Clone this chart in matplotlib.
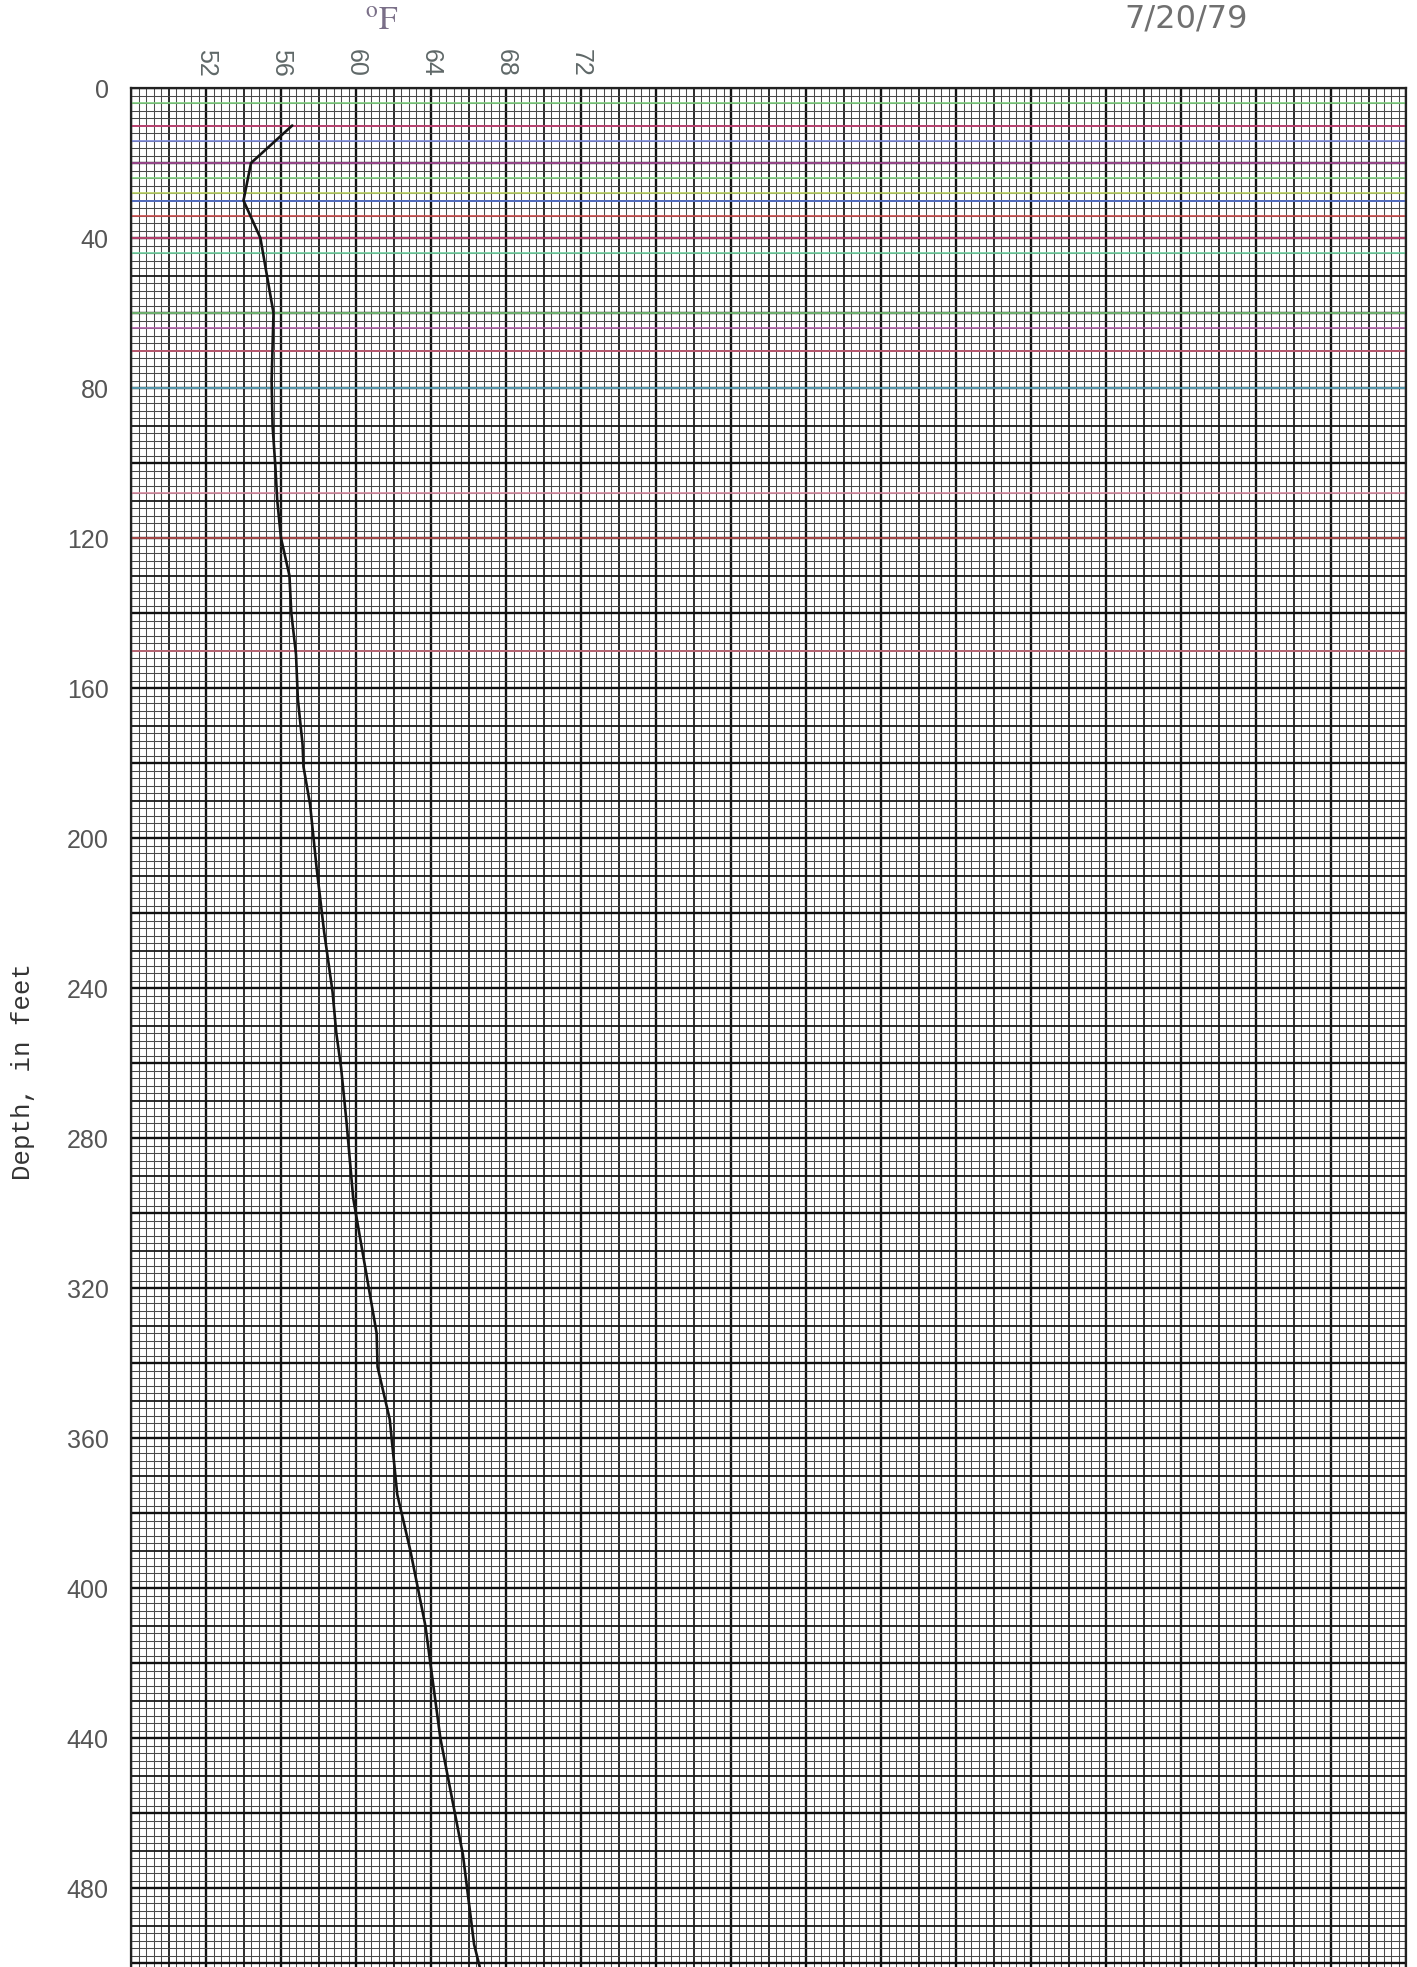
import matplotlib
matplotlib.use("Agg")
import matplotlib.pyplot as plt
import numpy as np

# ---------------- data ----------------
depth_ft = [10, 20, 30, 40, 60, 78, 90, 101, 110, 120, 130, 140, 151, 163,
            175, 181, 191, 208, 225, 241, 252, 261, 276, 296, 332, 341, 355,
            375, 390, 410, 440, 471, 495, 501]
temp_f = [56.6, 54.4, 54.0, 54.9, 55.6, 55.5, 55.55, 55.7, 55.8, 56.0, 56.45,
          56.55, 56.8, 56.9, 57.15, 57.2, 57.55, 57.9, 58.3, 58.75, 58.95,
          59.2, 59.5, 59.85, 61.1, 61.15, 61.8, 62.2, 62.9, 63.7, 64.5, 65.7,
          66.3, 66.6]
temp_ticks = [52, 56, 60, 64, 68, 72]
temp_tick_labels = ["52", "56", "60", "64", "68", "72"]
depth_ticks = [0, 40, 80, 120, 160, 200, 240, 280, 320, 360, 400, 440, 480]
depth_tick_labels = [str(d) for d in depth_ticks]
unit_label = r"$^{\mathrm{o}}\mathrm{F}$"
depth_label = "Depth, in feet"
date_label = "7/20/79"

# ---------------- style ----------------
plt.rcParams['font.family'] = ['Liberation Sans', 'DejaVu Sans']
plt.rcParams['mathtext.fontset'] = 'stix'

W, H = 1417, 1967
fig = plt.figure(figsize=(W / 100, H / 100), dpi=100)
fig.patch.set_facecolor('white')
ax_left, ax_top, ax_right = 131, 88, 1406
ax = fig.add_axes([ax_left / W, 0, (ax_right - ax_left) / W, 1 - ax_top / H])
xmin, xmax = 48, 116
ymax = 501
ax.set_xlim(xmin, xmax)
ax.set_ylim(ymax, 0)

# graph-paper grid
step_x, step_y = 0.4, 2.0
nx = int(round((xmax - xmin) / step_x))
for i in range(nx + 1):
    x = xmin + i * step_x
    if i % 10 == 0:
        lw, c = 1.7, '#111111'
    elif i % 5 == 0:
        lw, c = 1.3, '#1a1a1a'
    else:
        lw, c = 0.75, '#4a4a4a'
    ax.axvline(x, color=c, lw=lw, zorder=1)
ny = int(np.floor(ymax / step_y))
for j in range(ny + 1):
    y = j * step_y
    if j % 10 == 0:
        lw, c = 1.7, '#111111'
    elif j % 5 == 0:
        lw, c = 1.3, '#1a1a1a'
    else:
        lw, c = 0.75, '#4a4a4a'
    ax.axhline(y, color=c, lw=lw, zorder=1)

# scan tints on some rulings near the top of the sheet
tints = [(4, '#7fd07f'), (10, '#d4487e'), (14, '#7a86d8'), (20, '#b04fa0'),
         (24, '#80d080'), (28, '#b8d060'), (30, '#5a78d8'), (34, '#c84a4a'),
         (40, '#d4487e'), (44, '#6fd0a0'), (60, '#7fcf7f'), (64, '#b060a8'),
         (70, '#d0607a'), (80, '#60b0c8'), (108, '#d88aa0'), (120, '#c05050'),
         (150, '#d07080')]
for d, col in tints:
    ax.axhline(d, color=col, lw=1.4, alpha=0.85, zorder=2)

# temperature log
ax.plot(temp_f, depth_ft, color='#151515', lw=1.9, zorder=5,
        solid_joinstyle='round', solid_capstyle='round')

# axes / ticks
for s in ax.spines.values():
    s.set_color('#222222')
    s.set_linewidth(1.6)
ax.spines['bottom'].set_visible(False)
ax.xaxis.tick_top()
ax.set_xticks(temp_ticks)
ax.set_xticklabels(temp_tick_labels, rotation=270)
ax.set_yticks(depth_ticks)
ax.set_yticklabels(depth_tick_labels)
ax.tick_params(axis='x', length=0, pad=8, labelsize=18, labelcolor='#5f6868')
ax.tick_params(axis='y', length=0, pad=16, labelsize=18, labelcolor='#555555')

fig.text(23 / W, 1 - 1072 / H, depth_label, rotation=90, ha='center',
         va='center', family=['Liberation Mono', 'DejaVu Sans Mono'],
         fontsize=18.5, color='#333333')
fig.text(382 / W, 1 - 21 / H, unit_label, ha='center', va='center',
         fontsize=24, color='#7a6f88')
fig.text(1186 / W, 1 - 19 / H, date_label, ha='center', va='center',
         family=['DejaVu Sans'], fontsize=23, color='#707070')

fig.savefig('out.png', dpi=100)
